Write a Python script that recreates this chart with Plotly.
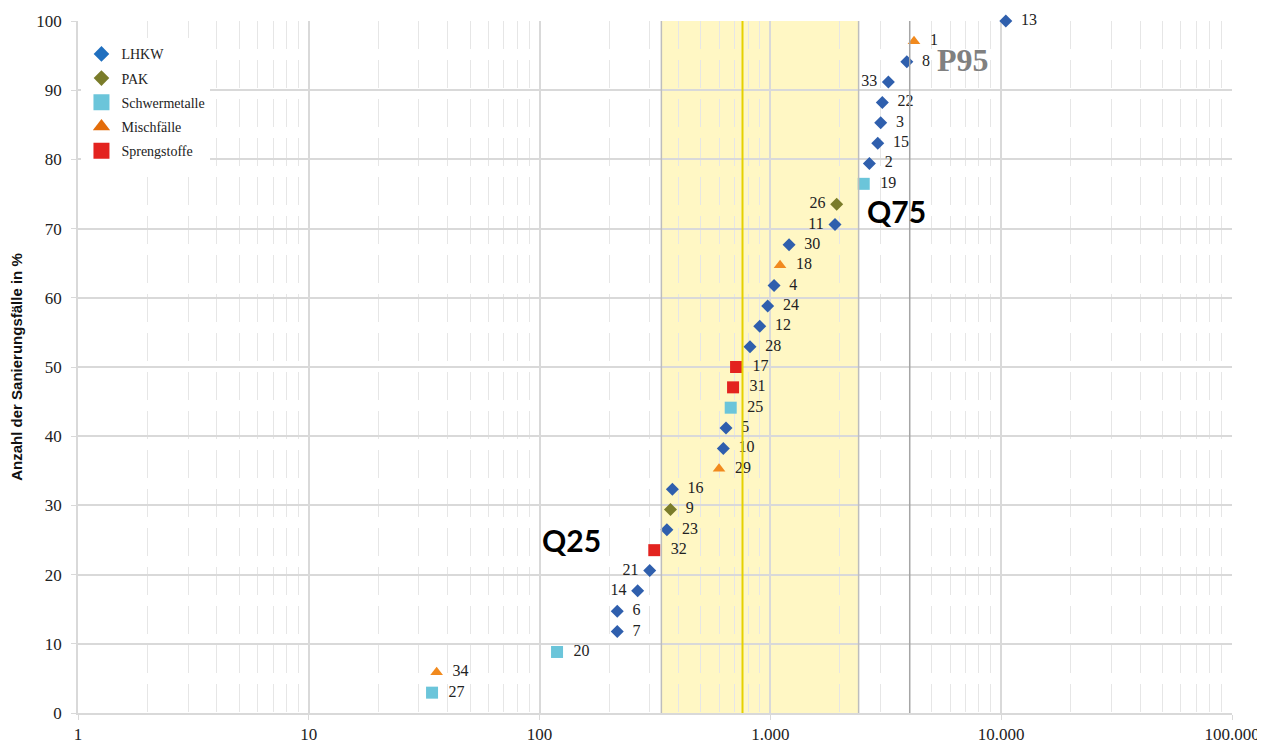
import plotly.graph_objects as go

# case number, remediation cost value (log x), cumulative share in %
case_ids = [13, 1, 8, 33, 22, 3, 15, 2, 19, 26, 11, 30, 18, 4, 24, 12, 28,
            17, 31, 25, 5, 10, 29, 16, 9, 23, 32, 21, 14, 6, 7, 20, 34, 27]
values = [10470, 4190, 3900, 3245, 3055, 3005, 2918, 2685, 2537, 1937, 1905,
          1205, 1101, 1037, 973, 899, 816, 710, 689, 673, 642, 625, 599, 376,
          369, 356, 314, 300, 266, 217, 217, 119, 35.8, 34.2]
percent = [100.0, 97.06, 94.12, 91.18, 88.24, 85.29, 82.35, 79.41, 76.47,
           73.53, 70.59, 67.65, 64.71, 61.76, 58.82, 55.88, 52.94, 50.0,
           47.06, 44.12, 41.18, 38.24, 35.29, 32.35, 29.41, 26.47, 23.53,
           20.59, 17.65, 14.71, 11.76, 8.82, 5.88, 2.94]
groups = ["LHKW", "Mischfälle", "LHKW", "LHKW", "LHKW", "LHKW", "LHKW", "LHKW",
          "Schwermetalle", "PAK", "LHKW", "LHKW", "Mischfälle", "LHKW", "LHKW",
          "LHKW", "LHKW", "Sprengstoffe", "Sprengstoffe", "Schwermetalle",
          "LHKW", "LHKW", "Mischfälle", "LHKW", "PAK", "LHKW", "Sprengstoffe",
          "LHKW", "LHKW", "LHKW", "LHKW", "Schwermetalle", "Mischfälle",
          "Schwermetalle"]
left_labels = [33, 26, 11, 21, 14]

q25, median, q75, p95 = 337, 757, 2411, 4015

x_tickvals = [1, 10, 100, 1000, 10000, 100000]
x_ticktext = ["1", "10", "100", "1.000", "10.000", "100.000"]

# symbol, point colour, point size, legend colour, legend size
group_style = {
    "LHKW": ("diamond", "#2F5FAD", 10, "#1F6FBF", 12),
    "PAK": ("diamond", "#7A7C2A", 10, "#7A7C2A", 12),
    "Schwermetalle": ("square", "#6BC5DA", 12, "#6BC5DA", 16),
    "Mischfälle": ("triangle-up", "#F18A1E", 11, "#E36C0A", 15),
    "Sprengstoffe": ("square", "#E3231F", 12, "#E3231F", 16),
}

SERIF = "Liberation Serif, serif"
NBSP = "\u00a0"

fig = go.Figure()

for g, (sym, col, size, lcol, lsize) in group_style.items():
    idx = [i for i, gg in enumerate(groups) if gg == g]
    fig.add_trace(go.Scatter(
        x=[values[i] for i in idx],
        y=[percent[i] for i in idx],
        text=[str(case_ids[i]) + NBSP if case_ids[i] in left_labels
              else NBSP * 2 + str(case_ids[i]) for i in idx],
        textposition=["middle left" if case_ids[i] in left_labels else "middle right"
                      for i in idx],
        textfont=dict(family=SERIF, size=16, color="#222222"),
        mode="markers+text",
        name=g,
        showlegend=False,
        marker=dict(symbol=sym, color=col, size=size, line=dict(width=0)),
        cliponaxis=False,
    ))
    # legend-only entry with the bigger legend symbol
    fig.add_trace(go.Scatter(
        x=[None], y=[None], mode="markers", name=g, legendgroup=g,
        marker=dict(symbol=sym, color=lcol, size=lsize, line=dict(width=0)),
    ))

# interquartile band and reference lines
fig.add_shape(type="rect", x0=q25, x1=q75, y0=0, y1=100, xref="x", yref="y",
              fillcolor="#FFF7C4", line=dict(width=0), layer="below")
for xv, col, w in [(q25, "#BDBDBD", 1.5), (q75, "#BDBDBD", 1.5),
                   (p95, "#A6A6A6", 1.5), (median, "#E5D100", 2)]:
    fig.add_shape(type="line", x0=xv, x1=xv, y0=0, y1=100, xref="x", yref="y",
                  line=dict(color=col, width=w), layer="above")

# annotation x positions are log10 values on the log axis
fig.add_annotation(x=3.41, y=72.5, xref="x", yref="y", text="<b>Q75</b>",
                   showarrow=False, xanchor="left", yanchor="middle",
                   font=dict(family="Lato, sans-serif", size=30, color="black"))
fig.add_annotation(x=2.275, y=25, xref="x", yref="y", text="<b>Q25</b>",
                   showarrow=False, xanchor="right", yanchor="middle",
                   font=dict(family="Lato, sans-serif", size=30, color="black"))
fig.add_annotation(x=3.715, y=94.4, xref="x", yref="y", text="<b>P95</b>",
                   showarrow=False, xanchor="left", yanchor="middle",
                   font=dict(family=SERIF, size=32, color="#808080"))

# page body adds 8px offset, so the figure is 1257x737
fig.update_layout(
    width=1257, height=737,
    margin=dict(l=70, r=33, t=13, b=32),
    plot_bgcolor="white", paper_bgcolor="white",
    showlegend=True,
    legend=dict(x=0.003, y=0.975, xanchor="left", yanchor="top",
                bgcolor="white", borderwidth=0, tracegroupgap=3,
                font=dict(family=SERIF, size=14, color="#222222"),
                itemsizing="trace"),
    xaxis=dict(type="log", range=[0, 5], tickvals=x_tickvals, ticktext=x_ticktext,
               automargin=False,
               showgrid=True, gridcolor="#D9D9D9", gridwidth=1.5,
               showline=True, linecolor="#D9D9D9", linewidth=1.5,
               ticks="outside", ticklen=5, tickcolor="#D9D9D9",
               tickfont=dict(family=SERIF, size=17, color="#222222"),
               zeroline=False,
               minor=dict(showgrid=True, gridcolor="#E6E6E6", gridwidth=1,
                          griddash="28px,11px", dtick="D1")),
    yaxis=dict(range=[0, 100], dtick=10, showgrid=True, gridcolor="#D9D9D9",
               automargin=False,
               gridwidth=1.5, showline=True, linecolor="#D9D9D9", linewidth=1.5,
               ticks="outside", ticklen=5, tickcolor="#D9D9D9",
               tickfont=dict(family=SERIF, size=17, color="#222222"),
               ticklabelstandoff=6,
               zeroline=False,
               title=dict(text="<b>Anzahl der Sanierungsfälle in %</b>", standoff=20,
                          font=dict(family="Liberation Sans Narrow, Arial Narrow, sans-serif",
                                    size=15, color="#111111"))),
)

fig.write_html("out.html")
